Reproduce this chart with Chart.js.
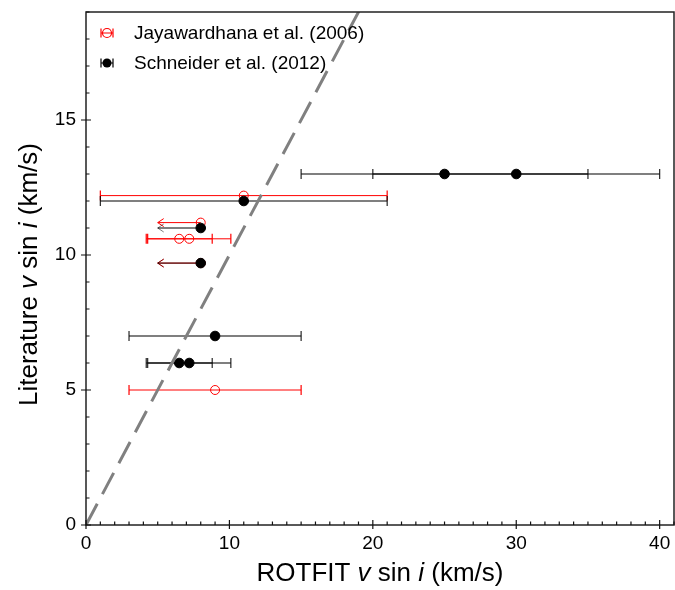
<!DOCTYPE html>
<html>
<head>
<meta charset="utf-8">
<script src="https://cdn.jsdelivr.net/npm/chart.js@4.4.1/dist/chart.umd.min.js"></script>
<style>
  html, body { margin: 0; padding: 0; background: #fff; }
  #wrap { width: 675px; height: 590px; }
</style>
</head>
<body>
<div id="wrap"><canvas id="chart" width="675" height="590"></canvas></div>
<script>
  // Jayawardhana et al. (2006) - open red circles
  var jayLabel = 'Jayawardhana et al. (2006)';
  var jayX = [9, 11, 8, 6.5, 7.2, 8];
  var jayY = [5, 12.2, 11.2, 10.6, 10.6, 9.7];
  var jayLo = [3, 1, 5, 4.2, 4.3, 5];
  var jayHi = [15, 21, null, 8.8, 10.1, null];   // null = upper limit (arrow)

  // Schneider et al. (2012) - filled black circles
  var schLabel = 'Schneider et al. (2012)';
  var schX = [25, 30, 11, 8, 8, 9, 6.5, 7.2];
  var schY = [13, 13, 12, 11, 9.7, 7, 6, 6];
  var schLo = [15, 20, 1, 5, 5, 3, 4.2, 4.3];
  var schHi = [35, 40, 21, null, null, 15, 8.8, 10.1];

  // one-to-one line
  var oneX = [0, 41];
  var oneY = [0, 41];

  var xTicks = [0, 10, 20, 30, 40];
  var yTicks = [0, 5, 10, 15];

  var FONT = "'Liberation Sans', Arial, sans-serif";

  function pts(xs, ys) {
    var out = [];
    for (var i = 0; i < xs.length; i++) out.push({x: xs[i], y: ys[i]});
    return out;
  }

  var series = [
    {x: jayX, y: jayY, lo: jayLo, hi: jayHi, line: 'rgba(255,0,0,1)', cap: 'rgba(255,0,0,1)', lw: 1},
    {x: schX, y: schY, lo: schLo, hi: schHi, line: 'rgba(0,0,0,0.5)', cap: 'rgba(0,0,0,0.85)', lw: 1.8}
  ];

  // error bars and upper-limit arrows, drawn under the markers
  var errorBars = {
    id: 'errorBars',
    beforeDatasetsDraw: function(chart) {
      var ctx = chart.ctx;
      var xs = chart.scales.x, ys = chart.scales.y;
      var a = chart.chartArea;
      ctx.save();
      ctx.beginPath();
      ctx.rect(a.left, a.top, a.right - a.left, a.bottom - a.top);
      ctx.clip();
      series.forEach(function(s) {
        for (var i = 0; i < s.x.length; i++) {
          var py = ys.getPixelForValue(s.y[i]);
          var px = xs.getPixelForValue(s.x[i]);
          var pl = xs.getPixelForValue(s.lo[i]);
          ctx.lineWidth = s.lw;
          ctx.strokeStyle = s.line;
          ctx.beginPath();
          if (s.hi[i] === null) {
            ctx.moveTo(px, py);
            ctx.lineTo(pl, py);
            ctx.stroke();
            ctx.lineWidth = 1;
            ctx.beginPath();
            ctx.moveTo(pl + 6, py - 4);
            ctx.lineTo(pl, py);
            ctx.lineTo(pl + 6, py + 4);
            ctx.stroke();
          } else {
            var ph = xs.getPixelForValue(s.hi[i]);
            ctx.moveTo(pl, py);
            ctx.lineTo(ph, py);
            ctx.stroke();
            ctx.strokeStyle = s.cap;
            ctx.lineWidth = 1.2;
            ctx.beginPath();
            ctx.moveTo(pl, py - 5); ctx.lineTo(pl, py + 5);
            ctx.moveTo(ph, py - 5); ctx.lineTo(ph, py + 5);
            ctx.stroke();
          }
        }
      });
      ctx.restore();
    }
  };

  // frame, inward ticks, axis titles with italic symbols, legend
  var decor = {
    id: 'decor',
    afterDraw: function(chart) {
      var ctx = chart.ctx;
      var a = chart.chartArea;
      var xs = chart.scales.x, ys = chart.scales.y;
      ctx.save();
      ctx.strokeStyle = '#222';
      ctx.lineWidth = 1.5;
      ctx.strokeRect(a.left, a.top, a.right - a.left, a.bottom - a.top);

      ctx.lineWidth = 1.2;
      ctx.strokeStyle = '#111';
      ctx.beginPath();
      var v, p;
      for (v = 0; v <= 41; v++) {
        p = xs.getPixelForValue(v);
        if (v % 10 === 0) { ctx.moveTo(p, a.bottom + 4); ctx.lineTo(p, a.bottom - 5); }
        else { ctx.moveTo(p, a.bottom); ctx.lineTo(p, a.bottom - 3.5); }
      }
      for (v = 0; v <= 19; v++) {
        p = ys.getPixelForValue(v);
        if (v % 5 === 0) { ctx.moveTo(a.left - 5, p); ctx.lineTo(a.left + 5, p); }
        else { ctx.moveTo(a.left, p); ctx.lineTo(a.left + 3.5, p); }
      }
      ctx.stroke();

      // axis titles
      var xParts = [['ROTFIT ', false], ['v', true], [' sin ', false], ['i', true], [' (km/s)', false]];
      var yParts = [['Literature ', false], ['v', true], [' sin ', false], ['i', true], [' (km/s)', false]];
      function drawParts(parts, cx, cy, rot) {
        ctx.save();
        ctx.translate(cx, cy);
        ctx.rotate(rot);
        ctx.fillStyle = '#000';
        ctx.textBaseline = 'middle';
        ctx.textAlign = 'left';
        var total = 0, widths = [];
        parts.forEach(function(pt) {
          ctx.font = (pt[1] ? 'italic ' : '') + '26px ' + FONT;
          var w = ctx.measureText(pt[0]).width;
          widths.push(w); total += w;
        });
        var x = -total / 2;
        parts.forEach(function(pt, k) {
          ctx.font = (pt[1] ? 'italic ' : '') + '26px ' + FONT;
          ctx.fillText(pt[0], x, 0);
          x += widths[k];
        });
        ctx.restore();
      }
      drawParts(xParts, (a.left + a.right) / 2, 574, 0);
      drawParts(yParts, 30, (a.top + a.bottom) / 2 + 6, -Math.PI / 2);

      // legend
      var rows = [
        {label: jayLabel, color: 'red', fill: false, y: 33},
        {label: schLabel, color: '#000', fill: true, y: 63}
      ];
      rows.forEach(function(r) {
        var cx = 107;
        ctx.strokeStyle = r.color;
        ctx.lineWidth = 1.2;
        ctx.beginPath();
        ctx.moveTo(cx - 6, r.y); ctx.lineTo(cx + 6, r.y);
        ctx.moveTo(cx - 6, r.y - 4.5); ctx.lineTo(cx - 6, r.y + 4.5);
        ctx.moveTo(cx + 6, r.y - 4.5); ctx.lineTo(cx + 6, r.y + 4.5);
        ctx.stroke();
        ctx.beginPath();
        ctx.arc(cx, r.y, 4.5, 0, Math.PI * 2);
        if (r.fill) { ctx.fillStyle = '#000'; ctx.fill(); }
        else { ctx.stroke(); }
        ctx.fillStyle = '#000';
        ctx.font = '19px ' + FONT;
        ctx.textBaseline = 'middle';
        ctx.textAlign = 'left';
        ctx.fillText(r.label, 134, r.y + 1);
      });
      ctx.restore();
    }
  };

  new Chart(document.getElementById('chart'), {
    type: 'scatter',
    data: {
      datasets: [
        {
          type: 'line',
          label: 'one-to-one',
          data: pts(oneX, oneY),
          borderColor: '#808080',
          borderWidth: 3,
          borderDash: [24, 11],
          pointRadius: 0,
          fill: false,
          order: 0
        },
        {
          label: schLabel,
          data: pts(schX, schY),
          pointStyle: 'circle',
          pointRadius: 4.8,
          backgroundColor: '#000',
          borderColor: '#000',
          borderWidth: 1,
          order: 1
        },
        {
          label: jayLabel,
          data: pts(jayX, jayY),
          pointStyle: 'circle',
          pointRadius: 4.5,
          backgroundColor: 'rgba(255,255,255,0)',
          borderColor: 'red',
          borderWidth: 1,
          order: 2
        }
      ]
    },
    options: {
      responsive: false,
      animation: false,
      layout: { autoPadding: false, padding: { left: 0, top: 12, right: 1, bottom: 0 } },
      plugins: {
        legend: { display: false },
        tooltip: { enabled: false }
      },
      scales: {
        x: {
          type: 'linear',
          min: 0,
          max: 41,
          // fixed axis size, and no extra room reserved for end labels
          afterFit: function(scale) {
            scale.height = 65;
            scale.paddingLeft = 0;
            scale.paddingRight = 0;
          },
          afterBuildTicks: function(scale) {
            scale.ticks = xTicks.map(function(v) { return {value: v}; });
          },
          ticks: { includeBounds: false, padding: 7, color: '#000', font: { family: FONT, size: 19 } },
          grid: { display: false, drawTicks: false, tickLength: 0 },
          border: { display: false }
        },
        y: {
          type: 'linear',
          min: 0,
          max: 19,
          afterFit: function(scale) {
            scale.width = 86;
            scale.paddingTop = 0;
            scale.paddingBottom = 0;
          },
          afterBuildTicks: function(scale) {
            scale.ticks = yTicks.map(function(v) { return {value: v}; });
          },
          ticks: { includeBounds: false, padding: 10, color: '#000', font: { family: FONT, size: 19 } },
          grid: { display: false, drawTicks: false, tickLength: 0 },
          border: { display: false }
        }
      }
    },
    plugins: [errorBars, decor]
  });
</script>
</body>
</html>
